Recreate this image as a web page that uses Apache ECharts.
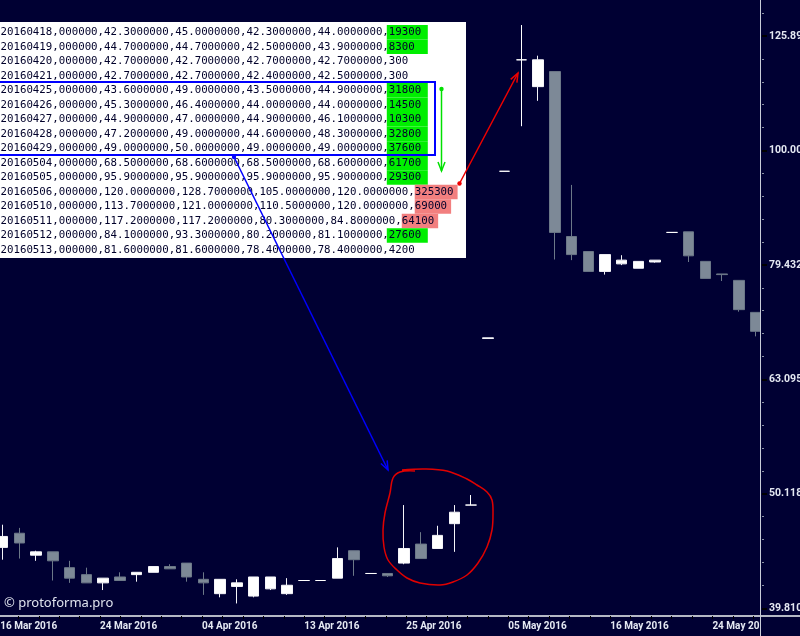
<!DOCTYPE html>
<html>
<head>
<meta charset="utf-8">
<script src="https://cdn.jsdelivr.net/npm/echarts@6/dist/echarts.min.js"></script>
<style>
html,body{margin:0;padding:0;background:#000033;}
#chart{width:800px;height:636px;}
</style>
</head>
<body>
<div id="chart"></div>
<script>
// ---------------- DATA ----------------
const dates = ['20160316','20160317','20160318','20160321','20160322','20160323','20160324','20160325',
  '20160328','20160329','20160330','20160331','20160404','20160405','20160406','20160407','20160408',
  '20160411','20160413','20160415','20160418','20160419','20160420','20160421','20160425','20160426',
  '20160427','20160428','20160429','20160504','20160505','20160506','20160510','20160511','20160512',
  '20160513','20160516','20160517','20160518','20160519','20160520','20160523','20160524','20160525',
  '20160526','20160527'];
const open  = [45.0,46.3,44.3,44.6,43.2,42.6,41.9,42.4,42.6,42.8,43.3,43.6,42.2,41.0,41.6,40.8,41.4,41.0,42.1,42.1,
  42.3,44.7,42.7,42.7,43.6,45.3,44.9,47.2,49.0,68.5,95.9,120.0,113.7,117.2,84.1,81.6,
  78.4,79.6,78.9,79.9,84.8,84.9,80.0,78.0,77.0,72.2];
const high  = [47.1,46.8,44.7,44.6,43.8,43.2,42.3,42.8,42.8,43.3,43.5,43.6,42.8,42.2,42.2,42.4,42.4,42.3,42.1,42.1,
  45.0,44.7,42.7,42.7,49.0,46.4,47.0,49.0,50.0,68.6,95.9,128.7,121.0,117.2,93.3,81.6,
  81.1,81.0,80.0,80.2,84.8,84.9,80.0,78.0,77.0,72.2];
const low   = [43.9,44.0,43.8,42.1,41.9,41.9,41.3,42.1,42.0,42.8,43.1,42.0,40.9,40.7,40.2,40.7,41.3,40.9,42.1,42.1,
  42.3,42.5,42.7,42.4,43.5,44.0,44.9,44.6,49.0,68.5,95.9,105.0,110.5,80.3,80.2,78.4,
  77.9,79.4,78.9,79.8,84.8,79.9,77.3,76.9,72.3,68.8];
const close = [46.0,45.4,44.6,43.8,42.3,41.9,42.3,42.1,42.8,43.3,43.1,42.4,41.9,42.2,41.9,42.4,42.4,41.7,42.1,42.1,
  44.0,43.9,42.7,42.5,44.9,44.0,46.1,48.3,49.0,68.6,95.9,120.0,120.0,84.8,81.1,78.4,
  81.1,80.2,80.0,80.2,84.8,80.9,77.3,77.9,72.6,69.5];
// table rows (20160418 .. 20160513)
const tableFirst = 20;
const tableVolume = [19300,8300,300,300,31800,14500,10300,32800,37600,61700,29300,325300,69000,64100,27600,4200];
// axis ticks
const yTickLog = [1.6,1.7,1.8,1.9,2.0,2.1];
const yTickLabels = ['39.810','50.118','63.095','79.432','100.00','125.89'];
const xTickLabels = ['16 Mar 2016','24 Mar 2016','04 Apr 2016','13 Apr 2016','25 Apr 2016','05 May 2016','16 May 2016','24 May 2016'];

// ---------------- LAYOUT ----------------
const BG = '#000033';
const N = dates.length;
const bandW = 16.73;
const firstCenter = 2.7;
const lastCenter = firstCenter + (N - 1) * bandW;
const axisX = 760;
const axisY = 616;
const yMin = 1.59327, yMax = 2.13145;
const xvMin = -firstCenter / bandW, xvMax = (axisX - firstCenter) / bandW;
const labelStart = -0.28, labelStep = 6.1, tickStep = labelStep / 5;

const xTicks = [];
for (let v = labelStart; v <= xvMax; v += tickStep) if (v > xvMin + 0.001) xTicks.push(v);
const xLabelPos = xTickLabels.map((t, i) => Math.max(xvMin + 0.01, labelStart + i * labelStep));
const yMinor = [];
for (let m = 1; m <= 26; m++) if (m % 5) yMinor.push(+(1.6 + 0.02 * m).toFixed(3));

const candleData = dates.map((d, i) => [
  Math.log10(open[i]), Math.log10(close[i]), Math.log10(low[i]), Math.log10(high[i])
]);

// ---------------- GRAPHICS ----------------
const graphics = [];
const Z = 100;
// table
const charW = 6.48, rowY0 = 32.3, rowH = 14.51;
const rowMark = ['g','g','','','g','g','g','g','g','g','g','r','r','r','g',''];
graphics.push({type:'rect', z:Z, shape:{x:-1, y:22, width:467, height:236}, style:{fill:'#ffffff'}});
tableVolume.forEach((vol, r) => {
  const i = tableFirst + r;
  const prefix = dates[i] + ',000000,' + open[i].toFixed(7) + ',' + high[i].toFixed(7) + ',' +
                 low[i].toFixed(7) + ',' + close[i].toFixed(7) + ',';
  const cy = rowY0 + r * rowH;
  const vs = prefix.length * charW;
  const vl = String(vol).length;
  if (rowMark[r] === 'g') {
    graphics.push({type:'rect', z:Z, shape:{x:vs - 2, y:cy - rowH/2, width:41, height:rowH}, style:{fill:'#00ee00'}});
  } else if (rowMark[r] === 'r') {
    graphics.push({type:'rect', z:Z, shape:{x:vs, y:cy - rowH/2, width:vl * charW + 4, height:rowH}, style:{fill:'#f27f7f'}});
  }
  graphics.push({type:'text', z:Z+1, x:0.5, y:cy,
    style:{text: prefix + vol, font:'10.76px "DejaVu Sans Mono"', fill:'#00002a', verticalAlign:'middle', align:'left'}});
});
// blue rectangle
graphics.push({type:'rect', z:Z+2, shape:{x:-2, y:82, width:437, height:73}, style:{fill:'none', stroke:'#0000ff', lineWidth:2}});

function arrow(x1, y1, x2, y2, color, w) {
  const dx = x2 - x1, dy = y2 - y1, L = Math.hypot(dx, dy), ux = dx / L, uy = dy / L;
  const hl = 9, hw = 3.5;
  const bx = x2 - ux * hl, by = y2 - uy * hl;
  graphics.push({type:'line', z:Z+3, shape:{x1, y1, x2, y2}, style:{stroke:color, lineWidth:w}});
  graphics.push({type:'polyline', z:Z+3, shape:{points:[[bx - uy * hw, by + ux * hw],[x2, y2],[bx + uy * hw, by - ux * hw]]},
    style:{stroke:color, lineWidth:w, fill:null}});
  graphics.push({type:'circle', z:Z+3, shape:{cx:x1, cy:y1, r:2.2}, style:{fill:color}});
}
arrow(441.5, 89, 441.5, 171, '#00e000', 1.5);
arrow(459.5, 183.5, 518, 73, '#ee0000', 1.5);
arrow(234, 157, 388, 470, '#0000ff', 1.5);

// red hand-drawn loop
graphics.push({type:'polyline', z:Z+3, shape:{smooth:0.35, points:[
  [415,471],[400,472],[393,478],[390,493],[385,513],[383,530],[384,547],[388,560],[397,570],[407,578],
  [420,583],[440,585],[453,582],[467,575],[478,563],[487,547],[492,530],[493,513],[492,500],[487,492],
  [477,485],[467,479],[447,471],[425,469],[402,470]]},
  style:{stroke:'#e00000', lineWidth:1.5, fill:null}});

// watermark
graphics.push({type:'text', z:Z, x:4, y:603,
  style:{text:'\u00a9 protoforma.pro', font:'13px "Noto Sans"', fill:'#dfe3ee', verticalAlign:'middle'}});

// mask right of price axis (clips candle overflow) and axis line extensions
graphics.push({type:'rect', z:Z, shape:{x:axisX + 0.6, y:0, width:1.4, height:axisY - 1}, style:{fill:BG}});
graphics.push({type:'rect', z:Z, shape:{x:axisX + 0.5, y:axisY + 1.2, width:40, height:20}, style:{fill:BG}});
graphics.push({type:'line', z:Z+1, shape:{x1:axisX - 1, y1:axisY, x2:800, y2:axisY}, style:{stroke:'#b4b8c4', lineWidth:2}});
graphics.push({type:'line', z:Z+1, shape:{x1:axisX + 0.5, y1:0, x2:axisX + 0.5, y2:636}, style:{stroke:'#c8ccd8', lineWidth:1}});

// ---------------- CHART ----------------
const chart = echarts.init(document.getElementById('chart'), null, {renderer:'canvas'});
chart.setOption({
  backgroundColor: BG,
  animation: false,
  grid: [
    {left: firstCenter, right: 800 - lastCenter, top: 0, bottom: 636 - axisY, containLabel: false, outerBoundsMode: 'none'},
    {left: 0, right: 800 - axisX, top: 0, bottom: 636 - axisY, containLabel: false, outerBoundsMode: 'none'}
  ],
  xAxis: [
    {type:'category', gridIndex:0, data: dates, boundaryGap: false, position:'bottom', show: false},
    {type:'value', gridIndex:1, min: xvMin, max: xvMax, position:'bottom',
      axisLine:{show:true, onZero:false, lineStyle:{color:'#b4b8c4', width:2}},
      axisTick:{show:true, customValues: xTicks, length:3, lineStyle:{color:'#000000', width:1}},
      axisLabel:{show:true, customValues: xLabelPos, align:'left', margin:5, hideOverlap:false,
        showMinLabel:true, showMaxLabel:true,
        color:'#e4e8f2', fontFamily:'Roboto', fontWeight:'bold', fontSize:10,
        formatter: (v) => xTickLabels[xLabelPos.findIndex(p => Math.abs(p - v) < 0.01)] || ''},
      splitLine:{show:false}}
  ],
  yAxis: [
    {type:'value', gridIndex:1, min: yMin, max: yMax, position:'right',
      axisLine:{show:true, onZero:false, lineStyle:{color:'#c8ccd8', width:1}},
      axisTick:{show:true, customValues: yTickLog, length:7, lineStyle:{color:'#000000', width:2}},
      axisLabel:{show:true, customValues: yTickLog, margin:9, color:'#e4e8f2',
        fontFamily:'Roboto', fontWeight:'bold', fontSize:10.5,
        formatter: (v) => yTickLabels[Math.round((v - 1.6) * 10)] || ''},
      splitLine:{show:false}},
    {type:'value', gridIndex:1, min: yMin, max: yMax, position:'right',
      axisLine:{show:false, onZero:false},
      axisTick:{show:true, customValues: yMinor, length:4, lineStyle:{color:'#8a92a4', width:1}},
      axisLabel:{show:false}, splitLine:{show:false}},
    {type:'value', gridIndex:0, min: yMin, max: yMax, show:false}
  ],
  series: [{
    type:'candlestick', xAxisIndex:0, yAxisIndex:2, data: candleData, barWidth: 11, clip: false,
    itemStyle:{color:'#ffffff', color0:'#7d8997', borderColor:'#f4f4f8', borderColor0:'#6c7888',
      borderColorDoji:'#ffffff', borderWidth:1}
  }],
  graphic: graphics
});
</script>
</body>
</html>
